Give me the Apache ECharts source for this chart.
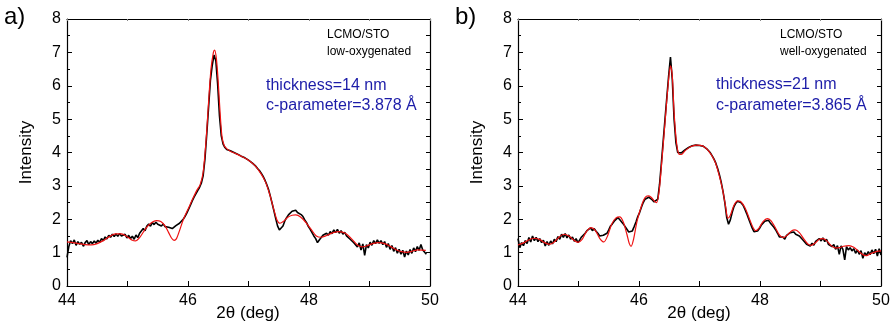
<!DOCTYPE html>
<html>
<head>
<meta charset="utf-8">
<script src="https://cdn.jsdelivr.net/npm/echarts@6/dist/echarts.min.js"></script>
<style>html,body{margin:0;padding:0;background:#fff}#c{width:891px;height:330px}</style>
</head>
<body>
<div id="c"></div>
<script>
// ---- data ----
const panelLabels = ['a)', 'b)'];
const sampleName = 'LCMO/STO';
const conditions = ['low-oxygenated', 'well-oxygenated'];
const fitTexts = [['thickness=14 nm', 'c-parameter=3.878 Å'], ['thickness=21 nm', 'c-parameter=3.865 Å']];
const xTickValues = [44, 46, 48, 50];
const yTickValues = [0, 1, 2, 3, 4, 5, 6, 7, 8];
const xName = '2θ (deg)';
const yName = 'Intensity';

// measured curves: sampled from 44.00 in steps of 0.03 deg
const blackStart = 44.00, blackStep = 0.03;
const blackA = [
0.86,1.18,1.36,1.27,1.38,1.22,1.33,1.25,1.31,1.19,
1.30,1.36,1.24,1.33,1.27,1.35,1.28,1.37,1.31,1.42,
1.36,1.47,1.41,1.52,1.46,1.55,1.48,1.56,1.49,1.57,
1.50,1.46,1.55,1.44,1.52,1.42,1.49,1.40,1.53,1.45,
1.58,1.62,1.72,1.66,1.80,1.86,1.79,1.90,1.84,1.91,
1.85,1.89,1.80,1.86,1.78,1.83,1.76,1.80,1.72,1.76,
1.81,1.78,1.88,1.93,2.00,2.08,2.18,2.30,2.42,2.55,
2.66,2.76,2.86,2.95,3.08,3.30,3.80,4.55,5.35,6.15,
6.60,6.92,6.75,6.05,5.10,4.50,4.25,4.15,4.09,4.06,
4.05,4.01,4.00,3.96,3.95,3.91,3.89,3.86,3.84,3.79,
3.77,3.74,3.69,3.65,3.59,3.52,3.46,3.38,3.29,3.18,
3.05,2.90,2.70,2.48,2.25,2.02,1.80,1.68,1.72,1.80,
1.95,2.05,2.13,2.17,2.24,2.19,2.27,2.20,2.22,2.14,
2.08,1.98,1.90,1.78,1.70,1.60,1.50,1.42,1.30,1.38,
1.42,1.52,1.48,1.58,1.52,1.63,1.57,1.68,1.60,1.70,
1.58,1.66,1.55,1.61,1.50,1.54,1.40,1.45,1.30,1.34,
1.17,1.29,1.08,1.26,0.92,1.24,1.14,1.31,1.22,1.36,
1.27,1.38,1.28,1.36,1.24,1.33,1.16,1.27,1.10,1.21,
1.04,1.15,0.98,1.10,0.95,1.07,0.87,1.05,0.93,1.09,
0.98,1.14,1.03,1.18,1.07,1.24,1.08,1.13,0.95
];
const blackB = [
1.42,1.15,1.30,1.21,1.36,1.27,1.45,1.32,1.50,1.36,
1.46,1.33,1.42,1.30,1.37,1.20,1.33,1.22,1.35,1.26,
1.40,1.33,1.48,1.40,1.55,1.46,1.57,1.44,1.53,1.40,
1.47,1.34,1.42,1.30,1.38,1.47,1.44,1.58,1.66,1.62,
1.74,1.66,1.72,1.64,1.58,1.50,1.45,1.52,1.47,1.58,
1.68,1.80,1.86,1.94,1.98,2.05,1.99,2.01,1.86,1.82,
1.70,1.62,1.58,1.65,1.78,1.92,2.08,2.20,2.36,2.50,
2.60,2.64,2.66,2.64,2.58,2.52,2.47,2.60,3.05,3.68,
4.35,5.00,5.65,6.30,6.86,6.20,5.00,4.30,4.00,3.96,
3.99,4.04,4.08,4.12,4.15,4.18,4.20,4.21,4.22,4.22,
4.21,4.20,4.19,4.16,4.11,4.06,3.99,3.90,3.80,3.68,
3.52,3.33,3.10,2.82,2.48,2.05,1.85,1.98,2.20,2.38,
2.48,2.54,2.52,2.49,2.42,2.30,2.17,2.02,1.88,1.74,
1.63,1.58,1.65,1.72,1.82,1.86,1.94,1.92,1.97,1.89,
1.86,1.76,1.68,1.58,1.47,1.42,1.47,1.40,1.52,1.50,
1.60,1.57,1.62,1.55,1.60,1.50,1.48,1.38,1.36,1.25,
1.30,1.20,1.28,1.22,1.34,1.29,1.42,1.35,1.44,1.33,
1.40,1.25,1.30,1.18,1.24,1.10,1.21,0.95,1.20,1.10,
0.78,1.18,1.08,1.15,1.05,1.12,0.98,1.08,0.95,1.06,
0.83,1.00,0.92,1.03,0.94,1.08,0.97,1.10,0.90,1.12,
0.93
];

// fitted curves
const redAx = [44.00,44.10,44.20,44.30,44.40,44.50,44.60,44.70,44.80,44.90,45.00,45.08,45.13,45.20,45.30,45.40,45.48,45.55,45.62,45.68,45.73,45.77,45.81,45.86,45.92,46.00,46.08,46.15,46.20,46.25,46.30,46.34,46.38,46.42,46.44,46.47,46.50,46.52,46.56,46.60,46.65,46.70,46.80,46.90,47.00,47.10,47.20,47.28,47.35,47.42,47.47,47.52,47.58,47.65,47.72,47.78,47.86,47.95,48.05,48.12,48.20,48.30,48.40,48.50,48.60,48.70,48.80,48.88,48.95,49.05,49.15,49.25,49.35,49.45,49.55,49.62,49.70,49.80,49.93];
const redAy = [1.32,1.30,1.27,1.24,1.23,1.27,1.36,1.48,1.56,1.56,1.47,1.37,1.35,1.45,1.72,1.90,1.96,1.93,1.80,1.60,1.43,1.37,1.42,1.66,1.98,2.30,2.62,2.88,3.03,3.40,4.40,5.50,6.50,7.00,7.07,6.80,6.10,5.50,4.50,4.20,4.10,4.04,3.96,3.87,3.77,3.62,3.38,3.12,2.75,2.28,1.98,1.88,1.94,2.06,2.12,2.13,2.07,1.90,1.66,1.50,1.46,1.52,1.60,1.63,1.58,1.42,1.23,1.17,1.20,1.27,1.30,1.27,1.18,1.08,1.02,1.01,1.04,1.08,1.07];
const redBx = [44.00,44.10,44.20,44.28,44.36,44.44,44.52,44.60,44.68,44.76,44.84,44.92,44.99,45.06,45.13,45.21,45.28,45.35,45.42,45.48,45.55,45.62,45.68,45.74,45.80,45.84,45.87,45.91,45.97,46.05,46.10,46.15,46.20,46.25,46.29,46.33,46.38,46.43,46.48,46.52,46.55,46.58,46.62,46.66,46.70,46.76,46.85,46.95,47.05,47.15,47.25,47.32,47.38,47.43,47.47,47.51,47.57,47.63,47.68,47.75,47.82,47.88,47.93,47.98,48.05,48.12,48.18,48.25,48.32,48.38,48.45,48.52,48.58,48.65,48.72,48.79,48.85,48.92,48.98,49.04,49.10,49.17,49.24,49.31,49.38,49.47,49.55,49.63,49.70,49.76,49.83,49.92,50.00];
const redBy = [1.23,1.30,1.40,1.43,1.39,1.30,1.25,1.32,1.47,1.55,1.50,1.38,1.31,1.40,1.63,1.75,1.66,1.43,1.32,1.50,1.86,2.04,2.07,1.92,1.55,1.27,1.19,1.40,1.96,2.45,2.65,2.70,2.66,2.55,2.50,2.80,3.80,4.90,6.00,6.60,6.30,5.20,4.30,3.95,3.94,4.05,4.17,4.22,4.20,4.05,3.75,3.35,2.90,2.40,2.03,2.12,2.42,2.55,2.53,2.35,2.04,1.77,1.66,1.73,1.93,2.02,1.96,1.76,1.53,1.45,1.52,1.65,1.68,1.60,1.42,1.26,1.22,1.30,1.40,1.42,1.36,1.22,1.14,1.15,1.19,1.21,1.16,1.04,0.94,0.91,0.97,1.03,1.05];

// ---- build ----
const FONT = '"Liberation Sans", Arial, Helvetica, sans-serif';
const toPairs = (arr) => arr.map((v, i) => [+(blackStart + i * blackStep).toFixed(2), v]);
const zip = (xs, ys) => xs.map((x, i) => [x, ys[i]]);

const grids = [
  { left: 67, top: 19, width: 363, height: 267, outerBoundsMode: 'none', containLabel: false },
  { left: 518, top: 19, width: 363, height: 267, outerBoundsMode: 'none', containLabel: false }
];

const xAxes = [], yAxes = [], series = [];
grids.forEach((g, gi) => {
  xAxes.push({
    type: 'value', gridIndex: gi, min: xTickValues[0], max: xTickValues[xTickValues.length - 1], interval: 2,
    axisLine: { show: true, onZero: false, lineStyle: { color: '#000', width: 1.2 } },
    axisTick: { show: true, inside: true, length: 5, lineStyle: { color: '#000', width: 1 } },
    minorTick: { show: true, splitNumber: 2, length: 5, lineStyle: { color: '#000', width: 1 } },
    axisLabel: { fontFamily: FONT, fontSize: 16, color: '#000', margin: 7 },
    splitLine: { show: false }
  });
  xAxes.push({
    type: 'value', gridIndex: gi, position: 'top', min: 44, max: 50, interval: 1,
    axisLine: { show: true, onZero: false, lineStyle: { color: '#000', width: 1.2 } },
    axisTick: { show: true, inside: true, length: 2, lineStyle: { color: '#888', width: 1 } },
    axisLabel: { show: false }, splitLine: { show: false }
  });
  yAxes.push({
    type: 'value', gridIndex: gi, min: yTickValues[0], max: yTickValues[yTickValues.length - 1], interval: 1,
    name: yName, nameLocation: 'middle', nameGap: 32, nameRotate: 90,
    nameTextStyle: { fontFamily: FONT, fontSize: 17, color: '#000' },
    axisLine: { show: true, onZero: false, lineStyle: { color: '#000', width: 1.2 } },
    axisTick: { show: true, inside: true, length: 5, lineStyle: { color: '#000', width: 1 } },
    minorTick: { show: true, splitNumber: 2, length: 3, lineStyle: { color: '#000', width: 1 } },
    axisLabel: { fontFamily: FONT, fontSize: 16, color: '#000', margin: 6 },
    splitLine: { show: false }
  });
  yAxes.push({
    type: 'value', gridIndex: gi, position: 'right', min: 0, max: 8, interval: 0.5,
    axisLine: { show: true, onZero: false, lineStyle: { color: '#000', width: 1.2 } },
    axisTick: { show: true, inside: true, length: 4, lineStyle: { color: '#000', width: 1 } },
    axisLabel: { show: false }, splitLine: { show: false }
  });
});

series.push({ type: 'line', xAxisIndex: 0, yAxisIndex: 0, data: toPairs(blackA), showSymbol: false, lineStyle: { color: '#000', width: 1.6 }, z: 2, animation: false });
series.push({ type: 'line', xAxisIndex: 0, yAxisIndex: 0, data: zip(redAx, redAy), showSymbol: false, smooth: 0.3, lineStyle: { color: '#ee1111', width: 1.2 }, z: 3, animation: false });
series.push({ type: 'line', xAxisIndex: 2, yAxisIndex: 2, data: toPairs(blackB), showSymbol: false, lineStyle: { color: '#000', width: 1.6 }, z: 2, animation: false });
series.push({ type: 'line', xAxisIndex: 2, yAxisIndex: 2, data: zip(redBx, redBy), showSymbol: false, smooth: 0.3, lineStyle: { color: '#ee1111', width: 1.2 }, z: 3, animation: false });

const txt = (x, y, text, size, color, align) => ({
  type: 'text', x, y, style: { text, fontFamily: FONT, fontSize: size, fill: color, textAlign: align || 'left', textVerticalAlign: 'middle' }
});
const graphic = [
  txt(4, 17, panelLabels[0], 24, '#000'),
  txt(455, 17, panelLabels[1], 24, '#000'),
  txt(248, 313, xName, 17, '#000', 'center'),
  txt(699, 313, xName, 17, '#000', 'center'),
  txt(327, 35, sampleName, 12, '#000'),
  txt(327, 52, conditions[0], 12, '#000'),
  txt(780, 35, sampleName, 12, '#000'),
  txt(780, 52, conditions[1], 12, '#000'),
  txt(266, 86, fitTexts[0][0], 16, '#1c1ca8'),
  txt(266, 106, fitTexts[0][1], 16, '#1c1ca8'),
  txt(716, 85, fitTexts[1][0], 16, '#1c1ca8'),
  txt(716, 106, fitTexts[1][1], 16, '#1c1ca8')
];

const chart = echarts.init(document.getElementById('c'), null, { renderer: 'canvas' });
chart.setOption({
  animation: false,
  backgroundColor: '#fff',
  grid: grids,
  xAxis: xAxes,
  yAxis: yAxes,
  series,
  graphic
});
</script>
</body>
</html>
